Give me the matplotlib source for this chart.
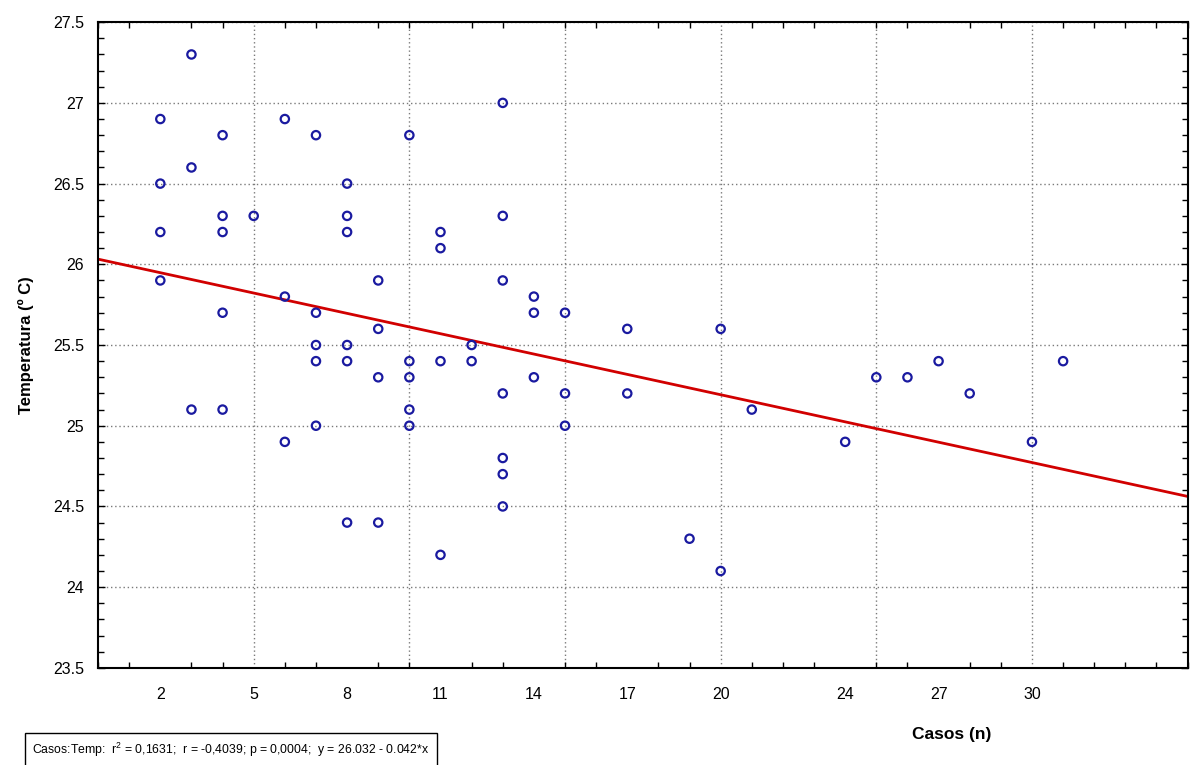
import matplotlib
matplotlib.use('Agg')
import matplotlib.pyplot as plt
from matplotlib.ticker import MultipleLocator, FixedLocator
import numpy as np

plt.rcParams['font.family'] = ['Liberation Sans Narrow', 'Liberation Sans', 'DejaVu Sans']

# casos (n) y temperatura (ºC)
casos = [2, 2, 2, 2,
         3, 3, 3,
         4, 4, 4, 4, 4,
         5,
         6, 6, 6,
         7, 7, 7, 7, 7,
         8, 8, 8, 8, 8, 8,
         9, 9, 9, 9,
         10, 10, 10, 10, 10,
         11, 11, 11, 11,
         12, 12,
         13, 13, 13, 13, 13, 13, 13,
         14, 14, 14,
         15, 15, 15,
         17, 17,
         19,
         20, 20,
         21, 24, 25, 26, 27, 28, 30, 31]
temp = [26.9, 26.5, 26.2, 25.9,
        27.3, 26.6, 25.1,
        26.8, 26.3, 26.2, 25.7, 25.1,
        26.3,
        26.9, 25.8, 24.9,
        26.8, 25.7, 25.5, 25.4, 25.0,
        26.5, 26.3, 26.2, 25.5, 25.4, 24.4,
        25.9, 25.6, 25.3, 24.4,
        26.8, 25.4, 25.3, 25.1, 25.0,
        26.2, 26.1, 25.4, 24.2,
        25.5, 25.4,
        27.0, 26.3, 25.9, 25.2, 24.8, 24.7, 24.5,
        25.8, 25.7, 25.3,
        25.7, 25.2, 25.0,
        25.6, 25.2,
        24.3,
        25.6, 24.1,
        25.1, 24.9, 25.3, 25.3, 25.4, 25.2, 24.9, 25.4]

# recta de regresion
intercepto = 26.032
pendiente = -0.042

xtick_pos = [2, 5, 8, 11, 14, 17, 20, 24, 27, 30]
xtick_labels = ['2', '5', '8', '11', '14', '17', '20', '24', '27', '30']
xgrid = [5, 10, 15, 20, 25, 30]

fig = plt.figure(figsize=(11.9, 7.65), dpi=100)
ax = fig.add_axes([0.0824, 0.127, 0.9156, 0.844])

xr = np.array([0, 35])
ax.plot(xr, intercepto + pendiente * xr, color='#d10000', linewidth=2, zorder=2)
ax.scatter(casos, temp, s=36, facecolors='none', edgecolors='#1a1aa0',
           linewidths=1.6, zorder=3)

ax.set_xlim(0, 35)
ax.set_ylim(23.5, 27.5)

ax.xaxis.set_major_locator(FixedLocator(xtick_pos))
ax.set_xticklabels(xtick_labels)
ax.xaxis.set_minor_locator(MultipleLocator(1))
ax.yaxis.set_major_locator(MultipleLocator(0.5))
ax.yaxis.set_minor_locator(MultipleLocator(0.1))
ax.set_yticklabels([f'{v:g}' for v in ax.get_yticks()])

ax.tick_params(axis='x', which='major', length=0, pad=14, labelsize=11.5)
ax.tick_params(axis='y', which='major', direction='in', length=5, width=1,
               right=True, labelsize=11.5, pad=10)
ax.tick_params(which='minor', direction='in', length=4, width=1,
               top=True, right=True)
ax.tick_params(axis='x', which='major', top=False)

ax.yaxis.grid(True, color='#7a7a7a', linestyle=(0, (1, 2)), linewidth=1)
for g in xgrid:
    ax.axvline(g, color='#7a7a7a', linestyle=(0, (1, 2)), linewidth=1, zorder=1)

for s in ax.spines.values():
    s.set_linewidth(1.5)

ax.set_ylabel('Temperatura (º C)', fontsize=12, fontweight='bold', labelpad=14)
fig.text(0.80, 0.04, 'Casos (n)', fontsize=12.5, fontweight='bold', ha='center', va='center')

fig.text(0.027, 0.02,
         r'Casos:Temp:  $\mathregular{r^2}$ = 0,1631;  r = -0,4039; p = 0,0004;  y = 26.032 - 0.042*x',
         fontsize=8.8, ha='left', va='center',
         bbox=dict(boxstyle='square,pad=0.6', facecolor='white', edgecolor='black', linewidth=1))

fig.savefig('out.png', dpi=100)
